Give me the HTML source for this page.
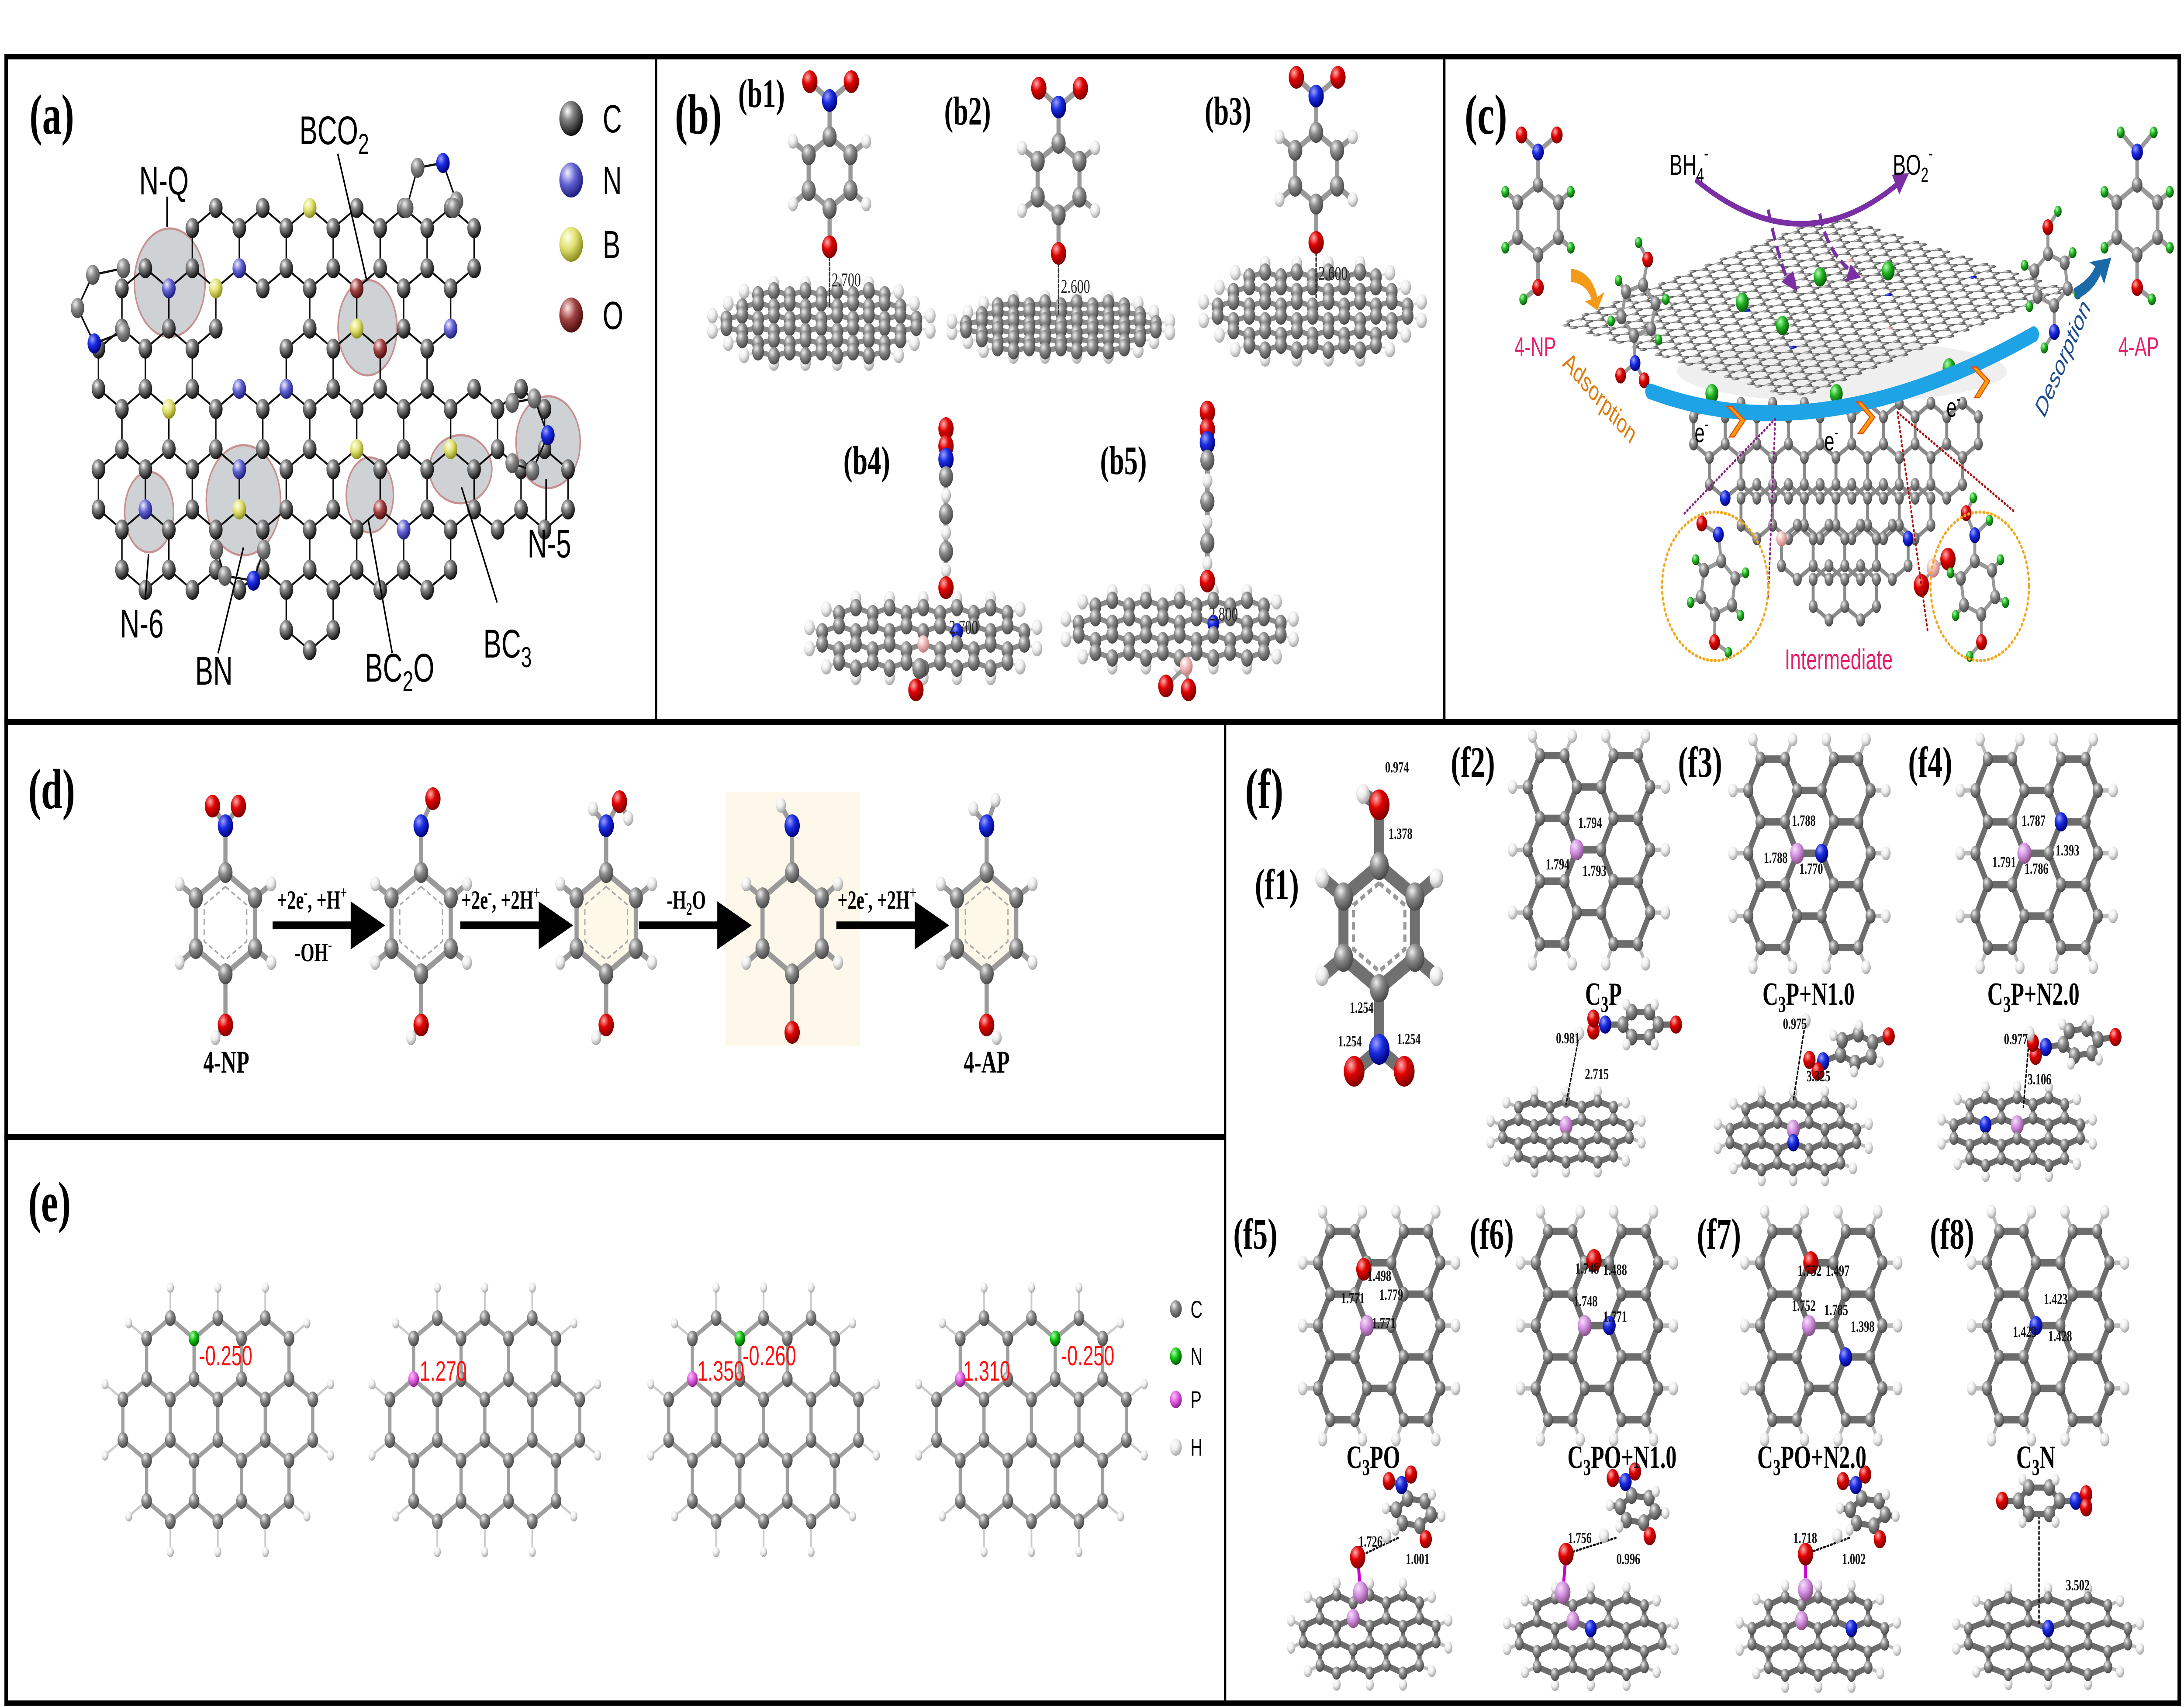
<!DOCTYPE html>
<html><head><meta charset="utf-8">
<style>html,body{margin:0;padding:0;background:#fff;width:100%;height:100%;overflow:hidden}svg{display:block;width:100%;height:100%;overflow:hidden}
.lb{font-family:"Liberation Serif",serif;font-weight:bold;fill:#000}
.sa{font-family:"Liberation Sans",sans-serif;fill:#000}
</style></head><body>
<svg id="s" xmlns="http://www.w3.org/2000/svg" width="100%" height="100%" viewBox="0 0 7411 3907" preserveAspectRatio="none">
<defs>
<clipPath id="clipAll"><rect width="7411" height="3907"/></clipPath>
<radialGradient id="gC" cx="35%" cy="30%" r="70%"><stop offset="0" stop-color="#f0f0f0"/><stop offset="0.45" stop-color="#8a8a8a"/><stop offset="1" stop-color="#4a4a4a"/></radialGradient>
<radialGradient id="gK" cx="35%" cy="30%" r="70%"><stop offset="0" stop-color="#ffffff"/><stop offset="0.35" stop-color="#888"/><stop offset="1" stop-color="#111"/></radialGradient>
<radialGradient id="gH" cx="35%" cy="30%" r="70%"><stop offset="0" stop-color="#fff"/><stop offset="0.5" stop-color="#eee"/><stop offset="1" stop-color="#a8a8a8"/></radialGradient>
<radialGradient id="gO" cx="35%" cy="30%" r="70%"><stop offset="0" stop-color="#ffb0b0"/><stop offset="0.45" stop-color="#e00000"/><stop offset="1" stop-color="#800000"/></radialGradient>
<radialGradient id="gN" cx="35%" cy="30%" r="70%"><stop offset="0" stop-color="#a0a0ff"/><stop offset="0.45" stop-color="#1a2ee0"/><stop offset="1" stop-color="#000080"/></radialGradient>
<radialGradient id="gNa" cx="35%" cy="30%" r="70%"><stop offset="0" stop-color="#f0f0ff"/><stop offset="0.5" stop-color="#6060d0"/><stop offset="1" stop-color="#202080"/></radialGradient>
<radialGradient id="gBa" cx="35%" cy="30%" r="70%"><stop offset="0" stop-color="#ffffe8"/><stop offset="0.5" stop-color="#e0e070"/><stop offset="1" stop-color="#909020"/></radialGradient>
<radialGradient id="gOa" cx="35%" cy="30%" r="70%"><stop offset="0" stop-color="#ffe8e8"/><stop offset="0.5" stop-color="#a04040"/><stop offset="1" stop-color="#501010"/></radialGradient>
<radialGradient id="gG" cx="35%" cy="30%" r="70%"><stop offset="0" stop-color="#b0ffb0"/><stop offset="0.5" stop-color="#20b020"/><stop offset="1" stop-color="#0a600a"/></radialGradient>
<radialGradient id="gP" cx="35%" cy="30%" r="70%"><stop offset="0" stop-color="#f8e0f8"/><stop offset="0.5" stop-color="#d090e0"/><stop offset="1" stop-color="#8a508a"/></radialGradient>
<radialGradient id="gPk" cx="35%" cy="30%" r="70%"><stop offset="0" stop-color="#fff"/><stop offset="0.5" stop-color="#f0b8b8"/><stop offset="1" stop-color="#c08080"/></radialGradient>
<radialGradient id="gE" cx="35%" cy="30%" r="70%"><stop offset="0" stop-color="#ffc0ff"/><stop offset="0.5" stop-color="#e060e0"/><stop offset="1" stop-color="#902090"/></radialGradient>
<radialGradient id="gNg" cx="35%" cy="30%" r="70%"><stop offset="0" stop-color="#b0ffb0"/><stop offset="0.5" stop-color="#10c010"/><stop offset="1" stop-color="#056005"/></radialGradient>
</defs>
<g clip-path="url(#clipAll)">
<rect width="7411" height="3907" fill="#fff"/>
<g fill="#a8adb2" fill-opacity="0.55" stroke="#c89090" stroke-width="5">
<ellipse cx="576" cy="647" rx="120" ry="124"/>
<ellipse cx="1247" cy="750" rx="100" ry="109"/>
<ellipse cx="506" cy="1172" rx="83" ry="92"/>
<ellipse cx="826" cy="1145" rx="126" ry="126"/>
<ellipse cx="1255" cy="1133" rx="80" ry="86"/>
<ellipse cx="1563" cy="1074" rx="106" ry="78"/>
<ellipse cx="1860" cy="1012" rx="109" ry="105"/>
</g>
<rect x="2462" y="1813" width="456" height="581" fill="#fdf8ea"/>
<ellipse cx="6250" cy="850" rx="560" ry="70" fill="#e0e0e0" opacity="0.5"/>
<g id="dyn"></g>
<g stroke="#000" fill="none">
<rect x="21" y="130" width="7374" height="3768" stroke-width="12"/>
<line x1="15" y1="1652" x2="7400" y2="1652" stroke-width="14"/>
<line x1="2226" y1="130" x2="2226" y2="1652" stroke-width="8"/>
<line x1="4901" y1="130" x2="4901" y2="1652" stroke-width="8"/>
<line x1="4157" y1="1652" x2="4157" y2="3898" stroke-width="8"/>
<line x1="15" y1="2602" x2="4157" y2="2602" stroke-width="14"/>
</g>
<g class="lb" font-size="130">
<text x="100" y="306">(a)</text>
<text x="2290" y="306">(b)</text>
<text x="4970" y="306">(c)</text>
<text x="96" y="1850">(d)</text>
<text x="96" y="2795">(e)</text>
<text x="4225" y="1850">(f)</text>
</g>
<g class="lb" font-size="92">
<text x="2505" y="245">(b1)</text>
<text x="3204" y="285">(b2)</text>
<text x="4088" y="285">(b3)</text>
<text x="2862" y="1085">(b4)</text>
<text x="3733" y="1085">(b5)</text>
</g>
<g class="lb" font-size="100">
<text x="4258" y="2058">(f1)</text>
<text x="4923" y="1778">(f2)</text>
<text x="5694" y="1778">(f3)</text>
<text x="6475" y="1778">(f4)</text>
<text x="4185" y="2858">(f5)</text>
<text x="4987" y="2858">(f6)</text>
<text x="5758" y="2858">(f7)</text>
<text x="6549" y="2858">(f8)</text>
</g>
<g stroke="#000" stroke-width="5">
<line x1="567" y1="450" x2="567" y2="520"/>
<line x1="1146" y1="352" x2="1245" y2="644"/>
<line x1="1853" y1="1096" x2="1853" y2="1190"/>
<line x1="504" y1="1268" x2="493" y2="1371"/>
<line x1="826" y1="1253" x2="740" y2="1495"/>
<line x1="1250" y1="1191" x2="1331" y2="1495"/>
<line x1="1566" y1="1115" x2="1687" y2="1379"/>
</g>
<g class="sa" font-size="92">
<text x="472" y="445">N-Q</text>
<text x="1016" y="330">BCO<tspan font-size="66" dy="22">2</tspan></text>
<text x="1790" y="1276">N-5</text>
<text x="407" y="1459">N-6</text>
<text x="662" y="1567">BN</text>
<text x="1238" y="1560">BC<tspan font-size="66" dy="22">2</tspan><tspan dy="-22">O</tspan></text>
<text x="1640" y="1505">BC<tspan font-size="66" dy="22">3</tspan></text>
</g>
<circle cx="1938" cy="271" r="40" fill="url(#gK)"/>
<circle cx="1938" cy="412" r="40" fill="url(#gNa)"/>
<circle cx="1938" cy="559" r="40" fill="url(#gBa)"/>
<circle cx="1938" cy="721" r="40" fill="url(#gOa)"/>
<g class="sa" font-size="90">
<text x="2045" y="303">C</text><text x="2045" y="444">N</text><text x="2045" y="591">B</text><text x="2045" y="753">O</text>
</g>
<g font-family="Liberation Serif,serif" font-size="44" fill="#222">
<text x="2822" y="655">2.700</text><text x="3600" y="670">2.600</text><text x="4474" y="640">2.600</text>
<text x="3220" y="1450">2.700</text><text x="4102" y="1420">2.800</text>
</g>
<path d="M5601,896 Q6180,1040 6901,765" fill="none" stroke="#1ea3e6" stroke-width="36" stroke-linecap="round"/>
<g fill="#ff9a10" stroke="#e05010" stroke-width="3">
<polygon points="5860,930 5905,962 5868,1000 5885,1000 5922,962 5877,930"/>
<polygon points="6300,920 6345,955 6305,992 6322,992 6362,955 6317,920"/>
<polygon points="6690,840 6735,872 6700,910 6717,910 6752,872 6707,840"/>
</g>
<path d="M5753,411 Q6110,610 6445,418" fill="none" stroke="#7a2fa5" stroke-width="13"/>
<polygon points="6478,396 6420,400 6445,445" fill="#7a2fa5"/>
<path d="M6000,480 Q6030,580 6070,650" fill="none" stroke="#7a2fa5" stroke-width="10" stroke-dasharray="30 14"/>
<polygon points="6100,668 6045,645 6085,620" fill="#7a2fa5"/>
<path d="M6175,489 Q6200,580 6290,625" fill="none" stroke="#7a2fa5" stroke-width="10" stroke-dasharray="30 14"/>
<polygon points="6315,635 6262,645 6280,605" fill="#7a2fa5"/>
<path d="M5330,615 Q5400,620 5420,680 L5445,668 L5420,710 L5378,690 L5400,685 Q5385,650 5330,645 Z" fill="#f49a18"/>
<path d="M7037,660 Q7090,640 7110,610 L7090,600 L7164,590 L7140,650 L7128,628 Q7100,670 7045,685 Z" fill="#1a6aa8"/>
<g fill="none" stroke-width="6" stroke-dasharray="2 9" stroke-linecap="round">
<line x1="6024" y1="959" x2="5713" y2="1177" stroke="#8a208a"/>
<line x1="6024" y1="959" x2="6000" y2="1371" stroke="#8a208a"/>
<line x1="6439" y1="944" x2="6837" y2="1172" stroke="#b01010"/>
<line x1="6439" y1="944" x2="6542" y2="1448" stroke="#b01010"/>
</g>
<g fill="none" stroke="#f2a81c" stroke-width="7" stroke-dasharray="3 10" stroke-linecap="round">
<ellipse cx="5820" cy="1342" rx="180" ry="170"/>
<ellipse cx="6718" cy="1342" rx="167" ry="170"/>
</g>
<g class="sa" font-size="66">
<text x="5665" y="400">BH<tspan font-size="46" dy="16">4</tspan><tspan font-size="46" dy="-50">-</tspan></text>
<text x="6423" y="400">BO<tspan font-size="46" dy="16">2</tspan><tspan font-size="46" dy="-50">-</tspan></text>
<text x="5750" y="1012" font-size="62">e<tspan font-size="40" dy="-28">-</tspan></text>
<text x="6190" y="1031" font-size="62">e<tspan font-size="40" dy="-28">-</tspan></text>
<text x="6605" y="954" font-size="62">e<tspan font-size="40" dy="-28">-</tspan></text>
</g>
<g font-family="Liberation Sans,sans-serif" font-size="62" fill="#e4206a">
<text x="5139" y="815">4-NP</text><text x="7188" y="815">4-AP</text>
<text x="6056" y="1532" font-size="66">Intermediate</text>
</g>
<text x="5426" y="930" font-family="Liberation Sans,sans-serif" font-size="62" fill="#e07b10" text-anchor="middle" transform="rotate(38 5426 915)">Adsorption</text>
<text x="7000" y="840" font-family="Liberation Sans,sans-serif" font-size="62" font-style="italic" fill="#1f4e8c" text-anchor="middle" transform="rotate(-58 7000 820)">Desorption</text>
<g fill="#000">
<polygon points="925,2109 1190,2109 1190,2063 1307,2118 1190,2173 1190,2127 925,2127"/>
<polygon points="1562,2109 1828,2109 1828,2063 1945,2118 1828,2173 1828,2127 1562,2127"/>
<polygon points="2168,2109 2434,2109 2434,2063 2551,2118 2434,2173 2434,2127 2168,2127"/>
<polygon points="2838,2109 3104,2109 3104,2063 3221,2118 3104,2173 3104,2127 2838,2127"/>
</g>
<g font-family="Liberation Serif,serif" font-size="60" font-weight="bold">
<text x="940" y="2080">+2e<tspan font-size="40" dy="-24">-</tspan><tspan dy="24">, +H</tspan><tspan font-size="40" dy="-24">+</tspan></text>
<text x="1000" y="2200">-OH<tspan font-size="40" dy="-24">-</tspan></text>
<text x="1565" y="2080">+2e<tspan font-size="40" dy="-24">-</tspan><tspan dy="24">, +2H</tspan><tspan font-size="40" dy="-24">+</tspan></text>
<text x="2262" y="2080">-H<tspan font-size="40" dy="14">2</tspan><tspan dy="-14">O</tspan></text>
<text x="2842" y="2080">+2e<tspan font-size="40" dy="-24">-</tspan><tspan dy="24">, +2H</tspan><tspan font-size="40" dy="-24">+</tspan></text>
<text x="690" y="2455" font-size="72">4-NP</text>
<text x="3270" y="2455" font-size="72">4-AP</text>
</g>
<g font-family="Liberation Sans,sans-serif" font-size="64" fill="#ff1010">
<text x="675" y="3125">-0.250</text>
<text x="1424" y="3160">1.270</text>
<text x="2366" y="3160">1.350</text><text x="2520" y="3125">-0.260</text>
<text x="3268" y="3160">1.310</text><text x="3600" y="3125">-0.250</text>
</g>
<circle cx="3990" cy="2996" r="20" fill="url(#gC)"/>
<circle cx="3990" cy="3104" r="20" fill="url(#gNg)"/>
<circle cx="3990" cy="3203" r="20" fill="url(#gE)"/>
<circle cx="3990" cy="3312" r="20" fill="url(#gH)"/>
<g class="sa" font-size="56"><text x="4040" y="3016">C</text><text x="4040" y="3124">N</text><text x="4040" y="3223">P</text><text x="4040" y="3332">H</text></g>
<g class="lb" font-size="74" text-anchor="middle">
<text x="5441" y="2300">C<tspan font-size="52" dy="16">3</tspan><tspan dy="-16">P</tspan></text>
<text x="6137" y="2300">C<tspan font-size="52" dy="16">3</tspan><tspan dy="-16">P+N1.0</tspan></text>
<text x="6900" y="2300">C<tspan font-size="52" dy="16">3</tspan><tspan dy="-16">P+N2.0</tspan></text>
<text x="4660" y="3360">C<tspan font-size="52" dy="16">3</tspan><tspan dy="-16">PO</tspan></text>
<text x="5504" y="3360">C<tspan font-size="52" dy="16">3</tspan><tspan dy="-16">PO+N1.0</tspan></text>
<text x="6148" y="3360">C<tspan font-size="52" dy="16">3</tspan><tspan dy="-16">PO+N2.0</tspan></text>
<text x="6908" y="3360">C<tspan font-size="52" dy="16">3</tspan><tspan dy="-16">N</tspan></text>
</g>
<g font-family="Liberation Serif,serif" font-weight="bold" font-size="36" fill="#111">
<text x="4700" y="1768">0.974</text><text x="4712" y="1920">1.378</text>
<text x="4580" y="2318">1.254</text><text x="4540" y="2395">1.254</text><text x="4740" y="2390">1.254</text>
<text x="5355" y="1895">1.794</text><text x="5245" y="1990">1.794</text><text x="5370" y="2005">1.793</text>
<text x="6080" y="1890">1.788</text><text x="5985" y="1975">1.788</text><text x="6105" y="2000">1.770</text>
<text x="6860" y="1890">1.787</text><text x="6760" y="1985">1.791</text><text x="6870" y="2000">1.786</text><text x="6975" y="1958">1.393</text>
<text x="5280" y="2388">0.981</text><text x="5378" y="2470">2.715</text>
<text x="6050" y="2355">0.975</text><text x="6130" y="2475">3.325</text>
<text x="6800" y="2390">0.977</text><text x="6880" y="2482">3.106</text>
<text x="4640" y="2932">1.498</text><text x="4550" y="2983">1.771</text><text x="4680" y="2975">1.779</text><text x="4655" y="3040">1.771</text>
<text x="5345" y="2915">1.748</text><text x="5440" y="2918">1.488</text><text x="5340" y="2990">1.748</text><text x="5440" y="3025">1.771</text>
<text x="6100" y="2920">1.752</text><text x="6195" y="2920">1.497</text><text x="6080" y="3000">1.752</text><text x="6190" y="3010">1.785</text><text x="6280" y="3048">1.398</text>
<text x="6935" y="2985">1.423</text><text x="6830" y="3060">1.423</text><text x="6950" y="3070">1.428</text>
<text x="4610" y="3540">1.726</text><text x="4770" y="3580">1.001</text>
<text x="5320" y="3532">1.756</text><text x="5485" y="3580">0.996</text>
<text x="6085" y="3532">1.718</text><text x="6250" y="3580">1.002</text>
<text x="7010" y="3640">3.502</text>
</g>
</g>
</svg>
<script>
(function(){
const PI=Math.PI,F=n=>(+n).toFixed(1),S3=Math.sqrt(3);
const TY={C:['url(#gC)',24],H:['url(#gH)',17],O:['url(#gO)',26],N:['url(#gN)',26],P:['url(#gP)',26],G:['url(#gG)',18],B:['url(#gPk)',22],E:['url(#gE)',24],Ng:['url(#gNg)',24]};
function circ(x,y,r,f){return '<circle cx="'+F(x)+'" cy="'+F(y)+'" r="'+F(r)+'" fill="'+f+'"/>';}
function line(x1,y1,x2,y2,c,w,da){return '<line x1="'+F(x1)+'" y1="'+F(y1)+'" x2="'+F(x2)+'" y2="'+F(y2)+'" stroke="'+c+'" stroke-width="'+w+'" stroke-linecap="round"'+(da?' stroke-dasharray="'+da+'"':'')+'/>';}
function flake(centers,b,orient,o){
 o=Object.assign({r:18,bw:10,bc:'#888',fill:'url(#gC)',h:true,hr:14,hl:55,hf:'url(#gH)',hbw:6,hbc:'#ccc',sy:1,het:[],skip:[]},o);
 if(o.py===undefined){o.py=centers.reduce((s,c)=>s+c[1],0)/centers.length;}
 const A=orient==='p'?[-90,-30,30,90,150,210]:[0,60,120,180,240,300];
 const V=[];
 const find=(x,y)=>{for(let i=0;i<V.length;i++){if(Math.abs(V[i].x-x)<b*0.2&&Math.abs(V[i].y-y)<b*0.2)return i;}V.push({x:x,y:y,n:new Set(),f:o.fill,r:o.r});return V.length-1;};
 centers.forEach(c=>{const ids=A.map(a=>find(c[0]+b*Math.cos(a*PI/180),c[1]+b*Math.sin(a*PI/180)));for(let i=0;i<6;i++){const p=ids[i],q=ids[(i+1)%6];V[p].n.add(q);V[q].n.add(p);}});
 o.het.forEach(h=>{let bi=0,bd=1e18;V.forEach((v,i)=>{const d=(v.x-h[0])**2+(v.y-h[1])**2;if(d<bd){bd=d;bi=i;}});V[bi].f=h[2];if(h[3])V[bi].r=h[3];});
 const T=(x,y)=>[x,o.py+(y-o.py)*o.sy];
 let sb='',sh='',sa='';
 V.forEach((v,i)=>{const p=T(v.x,v.y);v.n.forEach(j=>{if(j>i){const q=T(V[j].x,V[j].y);sb+=line(p[0],p[1],q[0],q[1],o.bc,o.bw);}});
  if(o.h&&v.n.size===2){let mx=0,my=0;v.n.forEach(j=>{mx+=V[j].x;my+=V[j].y;});mx/=2;my/=2;let dx=v.x-mx,dy=v.y-my;const L=Math.hypot(dx,dy)||1;dx/=L;dy/=L;const hp=T(v.x+dx*o.hl,v.y+dy*o.hl);sh+=line(p[0],p[1],hp[0],hp[1],o.hbc,o.hbw)+circ(hp[0],hp[1],o.hr,o.hf);}
 });
 const ord=V.map((v,i)=>i).sort((a,c)=>V[a].y-V[c].y);
 ord.forEach(i=>{const v=V[i],p=T(v.x,v.y);sa+=circ(p[0],p[1],v.r,v.f);});
 return sb+sh+sa;
}
function prow(cx,cy,b,rows){const w=S3*b,out=[];rows.forEach(rw=>{for(let i=0;i<rw[2];i++)out.push([cx+(rw[1]+i)*w,cy+rw[0]*1.5*b]);});return out;}
function fcol(cx,cy,b,cols){const h=S3*b,out=[];cols.forEach(c=>{for(let i=0;i<c[2];i++)out.push([cx+c[0]*1.5*b,cy+(c[1]+i)*h]);});return out;}
function ringMol(cx,cy,b,o){
 o=Object.assign({hf:1.55,hs:[1,2,4,5],ht:'H',sy:1,sc:1,bw:14,bc:'#999',subs:[],dash:null,fill:null,rot:0},o);
 const A=[],B=[];
 const R=(x,y)=>{const c=Math.cos(o.rot*PI/180),s=Math.sin(o.rot*PI/180);return [cx+x*c-y*s, cy+(x*s+y*c)*o.sy];};
 for(let k=0;k<6;k++){const a=(-90+60*k)*PI/180;A.push(R(b*Math.cos(a),b*Math.sin(a)).concat(['C']));B.push([k,(k+1)%6]);}
 o.hs.forEach(k=>{const a=(-90+60*k)*PI/180;A.push(R(b*o.hf*Math.cos(a),b*o.hf*Math.sin(a)).concat([o.ht]));B.push([k,A.length-1]);});
 o.subs.forEach(s=>{A.push(R(s[0],s[1]).concat([s[2]]));B.push([s[3],A.length-1]);});
 let str='';
 if(o.fill){str+='<polygon points="'+A.slice(0,6).map(p=>F(p[0])+','+F(p[1])).join(' ')+'" fill="'+o.fill+'"/>';}
 B.forEach(e=>{str+=line(A[e[0]][0],A[e[0]][1],A[e[1]][0],A[e[1]][1],o.bc,o.bw);});
 if(o.dash){const pts=A.slice(0,6).map(p=>F(cx+(p[0]-cx)*0.72)+','+F(cy+(p[1]-cy)*0.72)).join(' ');str+='<polygon points="'+pts+'" fill="none" stroke="'+o.dash+'" stroke-width="'+(o.bw*0.3)+'" stroke-dasharray="'+(b*0.12)+' '+(b*0.08)+'"/>';}
 A.forEach(p=>{const t=TY[p[2]];str+=circ(p[0],p[1],t[1]*o.sc,t[0]);});
 return str;
}
function atoms(list,bonds,o){o=Object.assign({bw:12,bc:'#999',sc:1},o);let s='';bonds.forEach(e=>{s+=line(list[e[0]][0],list[e[0]][1],list[e[1]][0],list[e[1]][1],e[2]||o.bc,o.bw);});list.forEach(p=>{const t=TY[p[2]];s+=circ(p[0],p[1],(p[3]||t[1]*o.sc),t[0]);});return s;}
let out='';
(function(){
 const b=92,cx=573,cy=568,w=S3*b;
 const rows=[[0,1,6],[1,-0.5,2],[1,3.5,3],[2,-1,2],[2,3,3],[3,-0.5,9],[4,-1,10],[5,-0.5,7],[6,3,1]];
 const cs=[];rows.forEach(r=>{for(let i=0;i<r[2];i++)cs.push([cx+(r[1]+i)*w,cy+r[0]*1.5*b]);});
 const het=[[573,660,'url(#gNa)'],[820,621,'url(#gNa)'],[780,843,'url(#gNa)'],[981,897,'url(#gNa)'],[1555,759,'url(#gNa)'],[814,1084,'url(#gNa)'],[487,1180,'url(#gNa)'],[1394,1230,'url(#gNa)'],
  [1067,472,'url(#gBa)'],[734,667,'url(#gBa)'],[573,947,'url(#gBa)'],[1228,759,'url(#gBa)'],[1228,1038,'url(#gBa)'],[1555,1038,'url(#gBa)'],[814,1176,'url(#gBa)'],
  [1228,667,'url(#gOa)'],[1308,801,'url(#gOa)'],[1228,1130,'url(#gOa)']];
 out+=flake(cs,b,'p',{r:23,bw:5,bc:'#111',fill:'url(#gK)',h:false,het:het});
 out+=atoms([[419,614,'C',23],[315,629,'C',23],[263,705,'C',23],[320,786,'N',23],[419,760,'C',23]],[[0,1,'#111'],[1,2,'#111'],[2,3,'#111'],[3,4,'#111']],{bw:5});
 out+=atoms([[1380,476,'C',23],[1417,384,'C',23],[1503,373,'N',23],[1549,461,'C',23],[1540,476,'C',23]],[[0,1,'#111'],[1,2,'#111'],[2,3,'#111'],[3,4,'#111']],{bw:5});
 out+=atoms([[1738,922,'C',23],[1813,912,'C',23],[1859,996,'N',23],[1807,1077,'C',23],[1738,1060,'C',23]],[[0,1,'#111'],[1,2,'#111'],[2,3,'#111'],[3,4,'#111']],{bw:5});
 out+=atoms([[734,1258,'C',23],[763,1318,'C',23],[860,1329,'N',23],[895,1258,'C',23]],[[0,1,'#111'],[1,2,'#111'],[2,3,'#111']],{bw:5});
})();
(function(){
 function vmol(cx,cy){return ringMol(cx,cy,82,{hf:1.75,sy:1,sc:1,bw:14,bc:'#999',subs:[[0,-165,'N',0],[-67,-208,'O',10],[74,-208,'O',10],[0,170,'O',3]]});}
 function sheet(cx,cy,sy,bb){bb=bb||70;return flake(prow(cx-2*S3*bb,cy-1.5*bb*2,bb,[[0,0.5,4],[1,0,5],[2,-0.5,6],[3,0,5],[4,0.5,4]]),bb,'p',{r:20,bw:12,bc:'#8a8a8a',hr:18,hl:55,hbc:'#ddd',sy:sy});}
 out+=sheet(2787,740,0.3,62)+line(2815,565,2815,700,'#333',5,'6 6')+vmol(2815,395);
 out+=sheet(3600,748,0.22,62)+line(3592,580,3592,720,'#333',5,'6 6')+vmol(3592,410);
 out+=sheet(4454,712,0.36,62)+line(4466,555,4466,680,'#333',5,'6 6')+vmol(4466,385);
 function emol(x,yTop,yO){const L=[[x,yTop,'O'],[x,yTop+40,'O'],[x,yTop+70,'N']];const n=6;for(let i=0;i<n;i++){const y=yTop+110+i*(yO-yTop-150)/(n-1);L.push([x,y,i%2?'H':'C']);}L.push([x,yO,'O']);const B=[];for(let i=0;i<L.length-1;i++)B.push([i,i+1]);return atoms(L,B,{bw:16,bc:'#999'});}
 out+=flake(prow(3190-2.5*S3*66,1460-99,66,[[0,0,5],[1,-0.5,6],[2,0,5]]),66,'p',{r:20,bw:12,bc:'#8a8a8a',hr:18,hl:50,sy:0.42,het:[[3214,1460,'url(#gN)'],[3120,1520,'url(#gPk)']]});
 out+=atoms([[3108,1579,'O'],[3120,1530,'C']],[[0,1]],{bw:10})+emol(3210,981,1345);
 out+=flake(prow(4060-2.5*S3*66,1440-99,66,[[0,0,5],[1,-0.5,6],[2,0,5]]),66,'p',{r:20,bw:12,bc:'#8a8a8a',hr:18,hl:50,sy:0.4,het:[[4130,1440,'url(#gN)']]});
 out+=atoms([[3956,1570,'O'],[4033,1579,'O'],[4025,1525,'B']],[[0,2],[1,2]],{bw:10})+emol(4097,943,1330);
})();
(function(){
 const lb=62,lw=S3*lb,cnt=[9,8,6,4,2];let cs=[];
 cnt.forEach((n,r)=>{const x0=6230-(n-1)*lw/2+(r>=3?30:0);for(let i=0;i<n;i++)cs.push([x0+i*lw,985+r*1.5*lb]);});
 out+=flake(cs,lb,'p',{r:15,bw:10,bc:'#8a8a8a',h:false,het:[[6050,1200,'url(#gPk)',18],[6450,1230,'url(#gN)',18],[5860,1180,'url(#gN)',18]]});
 out+=atoms([[6560,1300,'B'],[6610,1280,'O'],[6520,1340,'O']],[[0,1],[0,2]],{bw:8});
 cs=[];const sb=30,sw=S3*sb;for(let r=0;r<20;r++)for(let u=0;u<17;u++)cs.push([u*sw+(r%2?sw/2:0),r*45]);
 out+='<g transform="matrix(1.001,-0.273,0.870,0.186,5354,740)">'+flake(cs,sb,'p',{r:10,bw:6,bc:'#7a7a7a',h:false,het:[[300,300,'url(#gN)'],[600,500,'url(#gN)'],[450,700,'url(#gPk)'],[200,600,'url(#gN)'],[700,250,'url(#gPk)'],[800,600,'url(#gN)']]})+'</g>';
 [[6176,634],[6407,620],[5912,692],[6048,745],[5809,901],[6231,901],[6614,842]].forEach(p=>{out+=circ(p[0],p[1],22,'url(#gG)');});
 out+=ringMol(5219,503,80,{hf:1.6,ht:'G',sc:0.75,bw:12,subs:[[0,-155,'N',0],[-56,-194,'O',10],[64,-194,'O',10],[0,155,'O',3],[-50,182,'G',13]]});
 out+=ringMol(7252,503,80,{hf:1.6,ht:'G',sc:0.75,bw:12,subs:[[0,-155,'N',0],[-56,-200,'G',10],[56,-200,'G',10],[0,155,'O',3],[50,182,'G',13]]});
 out+=ringMol(5830,1345,62,{hf:1.6,ht:'G',sc:0.7,bw:10,rot:10,subs:[[-20,-120,'N',0],[-80,-135,'O',10],[10,125,'O',3],[60,140,'G',12]]});
 out+=ringMol(6712,1345,62,{hf:1.6,ht:'G',sc:0.7,bw:10,rot:-10,subs:[[10,-120,'N',0],[-10,-175,'O',10],[20,-205,'G',11],[65,-145,'G',10],[-10,125,'O',3],[-55,150,'G',14]]});
 out+=ringMol(5560,710,60,{hf:1.6,ht:'G',sc:0.7,bw:10,rot:15,subs:[[0,-120,'O',0],[-40,-150,'G',10],[20,120,'N',3],[-20,160,'O',12],[60,150,'O',12]]});
 out+=ringMol(6960,640,60,{hf:1.6,ht:'G',sc:0.7,bw:10,rot:-10,subs:[[10,-120,'O',0],[50,-150,'G',10],[-10,120,'N',3],[-50,150,'G',12]]});
})();
(function(){
 const xs=[765,1429,2057,2688,3348],cy=2113;
 const subs=[
  [[0,-223,'N',0],[-44,-268,'O',10],[44,-268,'O',10],[0,233,'O',3],[-34,262,'H',13]],
  [[0,-223,'N',0],[40,-285,'O',10],[0,233,'O',3],[-34,262,'H',12]],
  [[0,-223,'N',0],[-45,-262,'H',10],[45,-278,'O',10],[75,-240,'H',12],[0,233,'O',3],[-34,262,'H',14]],
  [[0,-223,'N',0],[-38,-270,'H',10],[0,250,'O',3]],
  [[0,-223,'N',0],[-45,-262,'H',10],[30,-282,'H',10],[0,233,'O',3],[34,262,'H',14]]];
 xs.forEach((x,i)=>{out+=ringMol(x,cy,116,{hf:1.55,sc:1,bw:14,bc:'#9a9a9a',subs:subs[i],dash:i===3?null:'#aaa',fill:(i===2||i===4)?'#fdf8e8':null});});
})();
(function(){
 const b=93;
 const rows=[[0,0,3],[1,-0.5,4],[2,0,3]];
 const cxs=[578,1484,2430,3339];
 const hets=[[[658,3063,'url(#gNg)']],[[1404,3156,'url(#gE)']],[[2350,3156,'url(#gE)'],[2510,3063,'url(#gNg)']],[[3258,3156,'url(#gE)'],[3581,3063,'url(#gNg)']]];
 cxs.forEach((cx,i)=>{out+=flake(prow(cx,3110,b,rows),b,'p',{r:18,bw:11,bc:'#a0a0a0',hr:12,hl:70,hbw:6,hbc:'#ccc',het:hets[i]});});
})();
(function(){
 out+=ringMol(4680,2122,140,{hf:1.6,sc:1.35,bw:34,bc:'#707070',dash:'#999',subs:[[0,-280,'O',0],[-55,-305,'H',10],[0,280,'N',3],[-85,330,'O',12],[85,330,'O',12]]});
 const fb=83;
 const top=[[-1,-1,3],[1,-1,3],[0,-0.5,2]];
 const topO={r:17,bw:17,bc:'#6c6c6c',hr:16,hl:52,hbw:10,hbc:'#bbb'};
 function T(cx,cy,het){return flake(fcol(cx,cy,fb,top),fb,'f',Object.assign({},topO,{het:het}));}
 out+=T(5392,1945,[[5350,1945,'url(#gP)',24]]);
 out+=T(6140,1953,[[6098,1953,'url(#gP)',24],[6182,1953,'url(#gN)',22]]);
 out+=T(6911,1953,[[6869,1953,'url(#gP)',24],[6953,1881,'url(#gN)',22]]);
 out+=T(4680,3034,[[4638,3034,'url(#gP)',24]])+atoms([[4628,2905,'O']],[],{});
 out+=T(5419,3034,[[5377,3034,'url(#gP)',24],[5502,3034,'url(#gN)',22]])+atoms([[5409,2885,'O']],[],{});
 out+=T(6180,3034,[[6138,3034,'url(#gP)',24],[6263,3106,'url(#gN)',22]])+atoms([[6145,2890,'O']],[],{});
 out+=T(6950,3034,[[6908,3034,'url(#gN)',22]]);
 const br=[[0,0,3],[1,-0.5,4],[2,0,3]];
 function B(cx,cy,b,sy,het){const w=S3*b;return flake(prow(cx-w,cy-1.5*b,b,br),b,'p',{r:15,bw:14,bc:'#6c6c6c',hr:14,hl:48,hbw:8,hbc:'#bbb',sy:sy,het:het});}
 out+=B(5314,2590,62,0.45,[[5314,2545,'url(#gP)',22]]);
 out+=B(6085,2600,62,0.5,[[6085,2520,'url(#gP)',22],[6085,2680,'url(#gN)',20]]);
 out+=B(6845,2590,62,0.5,[[6866,2534,'url(#gP)',22],[6780,2590,'url(#gN)',20]]);
 out+=B(4648,3740,65,0.55,[[4617,3660,'url(#gP)',22]]);
 out+=B(5398,3745,70,0.5,[[5303,3660,'url(#gP)',22],[5399,3704,'url(#gN)',20]]);
 out+=B(6170,3745,65,0.55,[[6127,3650,'url(#gP)',22],[6243,3726,'url(#gN)',20]]);
 out+=B(6950,3745,78,0.45,[[7003,3726,'url(#gN)',20]]);
 function ph(cx,cy,rot,sub){return ringMol(cx,cy,60,{hf:1.6,sc:0.8,bw:14,bc:'#6c6c6c',sy:0.55,rot:rot,subs:sub});}
 out+=line(5360,2365,5314,2527,'#111',5,'5 7')+ph(5567,2345,90,[[0,-120,'O',0],[0,120,'N',3],[25,160,'O',12],[-25,160,'O',12]])+atoms([[5360,2365,'H']],[],{sc:0.9});
 out+=line(6127,2336,6085,2520,'#111',5,'5 7')+ph(6300,2400,65,[[0,-120,'O',0],[0,125,'N',3],[30,160,'O',12],[-25,165,'O',12]])+atoms([[6127,2336,'H']],[],{});
 out+=line(6887,2365,6866,2534,'#111',5,'5 7')+ph(7060,2385,80,[[0,-120,'O',0],[0,120,'N',3],[30,160,'O',12],[-25,160,'O',12]])+atoms([[6887,2365,'H']],[],{});
 [[4797,3461,4744,3520,4607,3564,4617,3645,4860,3390],[5557,3454,5483,3520,5314,3557,5303,3645,5690,3395],[6338,3461,6275,3520,6127,3557,6127,3638,6440,3390]].forEach(a=>{
  out+=line(a[4],a[5],a[6],a[7],'#cc00cc',10)+line(a[2],a[3],a[4],a[5],'#111',5,'5 7');
  out+=ringMol(a[0],a[1],60,{hf:1.6,sc:0.8,bw:14,bc:'#6c6c6c',sy:0.55,rot:-20,subs:[[0,-120,'N',0],[-35,-150,'O',10],[45,-150,'O',10],[0,120,'O',3]]});
  out+=atoms([[a[4],a[5],'O'],[a[6],a[7],'P'],[a[2]-40,a[3]-5,'H']],[],{});
 });
 out+=line(6919,3470,6919,3720,'#111',5,'5 7')+ringMol(6919,3435,70,{hf:1.6,sc:0.8,bw:14,bc:'#6c6c6c',sy:0.5,rot:90,subs:[[0,-125,'N',0],[-30,-160,'O',10],[30,-160,'O',10],[0,125,'O',3]]});
})();
document.getElementById('dyn').innerHTML=out;
})();
</script>
</body></html>
